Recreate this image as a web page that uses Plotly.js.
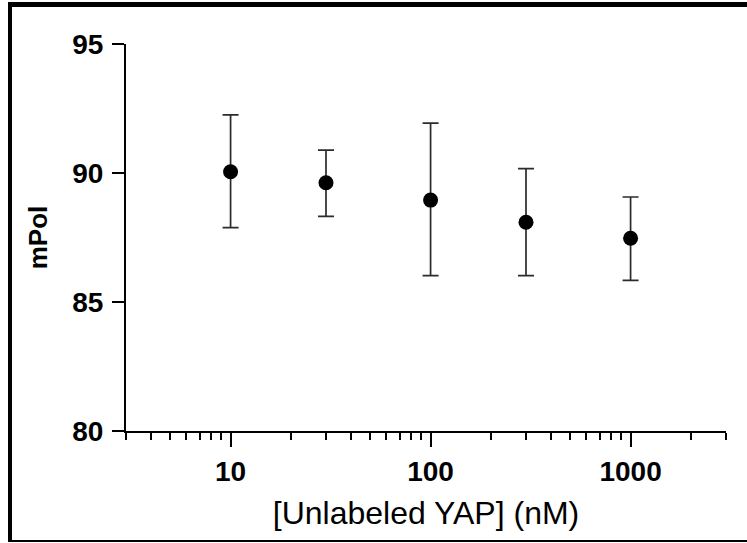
<!DOCTYPE html>
<html>
<head>
<meta charset="utf-8">
<script src="https://cdn.plot.ly/plotly-3.0.1.min.js"></script>
<style>
html,body{margin:0;padding:0;background:#fff;overflow:hidden;}
#chart{position:absolute;left:0;top:0;width:747px;height:543px;}
#frame{position:absolute;left:8px;top:2px;width:800px;height:540px;box-sizing:border-box;
  border-top:5px solid #000;border-left:4px solid #000;border-bottom:2px solid #000;pointer-events:none;}
</style>
</head>
<body>
<div id="chart"></div>
<div id="frame"></div>
<script>
// Data
const concentrations = [10, 30, 100, 300, 1000];      // nM
const mPolMean = [90.05, 89.62, 88.95, 88.09, 87.47];
const mPolErrPlus = [2.20, 1.27, 2.98, 2.08, 1.60];
const mPolErrMinus = [2.17, 1.30, 2.93, 2.07, 1.63];
const xTickVals = [10, 100, 1000];
const xTickText = ['10', '100', '1000'];
const yTickVals = [80, 85, 90, 95];
const xTitle = '[Unlabeled YAP] (nM)';
const yTitle = 'mPol';

const trace = {
  x: concentrations,
  y: mPolMean,
  type: 'scatter',
  mode: 'markers',
  marker: {color: '#000', size: 15},
  error_y: {
    type: 'data', symmetric: false,
    array: mPolErrPlus, arrayminus: mPolErrMinus,
    color: '#2b2b2b', thickness: 1.7, width: 8
  },
  showlegend: false,
  cliponaxis: false
};

const tickFont = {family: 'Liberation Sans, Arial, sans-serif', size: 28, color: '#000', weight: 'bold'};

const layout = {
  width: 747, height: 543,
  margin: {l: 126, r: 21, t: 44, b: 112},
  paper_bgcolor: '#fff', plot_bgcolor: '#fff',
  xaxis: {
    type: 'log',
    range: [Math.log10(3), Math.log10(3000)],
    tickvals: xTickVals, ticktext: xTickText,
    ticks: 'outside', ticklen: 14, tickwidth: 2, tickcolor: '#000',
    ticklabelstandoff: 0,
    minor: {ticks: 'outside', ticklen: 7, tickwidth: 2, tickcolor: '#000', dtick: 'D1', showgrid: false},
    showline: true, linecolor: '#000', linewidth: 2,
    showgrid: false, zeroline: false,
    tickfont: tickFont,
    automargin: false,
    title: {text: xTitle, font: {family: 'Liberation Sans, Arial, sans-serif', size: 32, color: '#000'}, standoff: 16}
  },
  yaxis: {
    range: [80, 95],
    tickvals: yTickVals,
    ticks: 'outside', ticklen: 12, tickwidth: 2, tickcolor: '#000',
    ticklabelstandoff: 3,
    showline: true, linecolor: '#000', linewidth: 2,
    showgrid: false, zeroline: false,
    tickfont: tickFont,
    automargin: false,
    title: {text: yTitle, font: {family: 'Liberation Sans, Arial, sans-serif', size: 26, color: '#000', weight: 'bold'}, standoff: 17}
  }
};

Plotly.newPlot('chart', [trace], layout, {staticPlot: true, displayModeBar: false});
</script>
</body>
</html>
